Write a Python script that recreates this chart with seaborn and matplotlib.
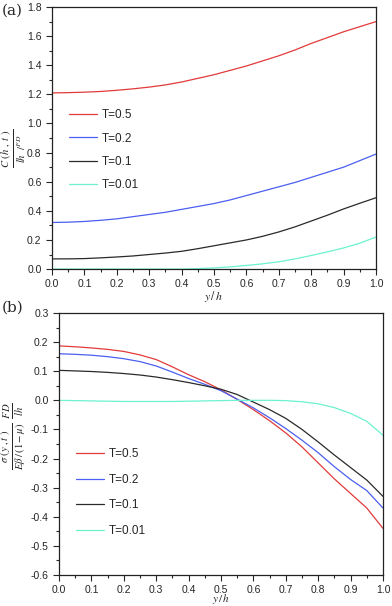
import numpy as np
import pandas as pd
import matplotlib
matplotlib.use("Agg")
import matplotlib.pyplot as plt
import seaborn as sns
from matplotlib.ticker import MultipleLocator

# x = y/h
x = [0.0, 0.05, 0.1, 0.15, 0.2, 0.25, 0.3, 0.35, 0.4, 0.45, 0.5,
     0.55, 0.6, 0.65, 0.7, 0.75, 0.8, 0.85, 0.9, 0.95, 1.0]
labels = ["T=0.5", "T=0.2", "T=0.1", "T=0.01"]

# panel (a): C(h,t)/(lh/FD)
a_05 = [1.21, 1.212, 1.215, 1.22, 1.228, 1.238, 1.25, 1.265, 1.285, 1.31, 1.335,
        1.365, 1.395, 1.43, 1.465, 1.505, 1.55, 1.59, 1.63, 1.665, 1.70]
a_02 = [0.32, 0.322, 0.327, 0.335, 0.345, 0.36, 0.375, 0.39, 0.41, 0.43, 0.45,
        0.475, 0.505, 0.535, 0.565, 0.595, 0.63, 0.665, 0.70, 0.745, 0.79]
a_01 = [0.07, 0.07, 0.072, 0.077, 0.083, 0.09, 0.10, 0.11, 0.122, 0.14, 0.16,
        0.18, 0.20, 0.225, 0.255, 0.29, 0.33, 0.37, 0.413, 0.452, 0.49]
a_001 = [0.0, 0.0, 0.0, 0.0, 0.0, 0.0, 0.0, 0.0, 0.0, 0.003, 0.008,
         0.015, 0.025, 0.036, 0.05, 0.07, 0.093, 0.118, 0.145, 0.178, 0.22]

# panel (b): sigma(y,t) / (E beta/(1-mu)) * FD/lh
b_05 = [0.187, 0.184, 0.18, 0.175, 0.168, 0.156, 0.14, 0.115, 0.088, 0.064, 0.036,
        0.003, -0.032, -0.07, -0.112, -0.16, -0.215, -0.27, -0.32, -0.37, -0.44]
b_02 = [0.16, 0.158, 0.155, 0.15, 0.143, 0.133, 0.118, 0.097, 0.075, 0.055, 0.033,
        0.004, -0.026, -0.06, -0.097, -0.137, -0.18, -0.228, -0.272, -0.31, -0.37]
b_01 = [0.103, 0.101, 0.099, 0.096, 0.092, 0.087, 0.08, 0.071, 0.061, 0.05, 0.038,
        0.02, -0.006, -0.032, -0.062, -0.1, -0.143, -0.188, -0.231, -0.274, -0.33]
b_001 = [0.0, -0.001, -0.002, -0.003, -0.004, -0.004, -0.004, -0.004, -0.003, -0.002, -0.001,
         0.0, 0.0, 0.0, -0.001, -0.005, -0.012, -0.025, -0.045, -0.072, -0.12]

colors = ["#e23a3a", "#4b5ff0", "#2a2a2a", "#6cf2cf"]

sns.set_style("ticks")
plt.rcParams["font.family"] = ["Liberation Sans", "DejaVu Sans"]
plt.rcParams["mathtext.fontset"] = "stix"


def long_df(series):
    rows = []
    for lab, vals in zip(labels, series):
        for xi, v in zip(x, vals):
            rows.append({"x": xi, "v": v, "T": lab})
    return pd.DataFrame(rows)


def style_axis(ax, ylim, ymaj, ymin):
    ax.set_xlim(0, 1.0)
    ax.set_ylim(*ylim)
    ax.xaxis.set_major_locator(MultipleLocator(0.1))
    ax.xaxis.set_minor_locator(MultipleLocator(0.05))
    ax.yaxis.set_major_locator(MultipleLocator(ymaj))
    ax.yaxis.set_minor_locator(MultipleLocator(ymin))
    ax.tick_params(which="major", direction="out", length=4, width=0.8, labelsize=7.5,
                   top=False, right=False)
    ax.tick_params(which="minor", direction="out", length=2.5, width=0.8,
                   top=False, right=False)
    for s in ax.spines.values():
        s.set_linewidth(0.9)
        s.set_color("#222222")
    ax.xaxis.set_major_formatter(matplotlib.ticker.FormatStrFormatter("%.1f"))
    ax.yaxis.set_major_formatter(matplotlib.ticker.FormatStrFormatter("%.1f"))


fig = plt.figure(figsize=(3.92, 6.06), dpi=100)
ax1 = fig.add_axes([0.1327, 0.556, 0.8265, 0.4324])
ax2 = fig.add_axes([0.1505, 0.0512, 0.8265, 0.4323])

df_a = long_df([a_05, a_02, a_01, a_001])
df_b = long_df([b_05, b_02, b_01, b_001])

sns.lineplot(data=df_a, x="x", y="v", hue="T", palette=colors, linewidth=0.9, ax=ax1)
sns.lineplot(data=df_b, x="x", y="v", hue="T", palette=colors, linewidth=0.9, ax=ax2)

style_axis(ax1, (0.0, 1.8), 0.2, 0.1)
style_axis(ax2, (-0.6, 0.3), 0.1, 0.05)

ax1.legend(loc="upper left", bbox_to_anchor=(0.02, 0.65), frameon=False, fontsize=8.5,
           handlelength=2.4, labelspacing=0.95, handletextpad=0.4)
ax2.legend(loc="upper left", bbox_to_anchor=(0.02, 0.525), frameon=False, fontsize=8.5,
           handlelength=2.4, labelspacing=1.15, handletextpad=0.4)

ax1.set_xlabel(r"$y\,/\,h$", fontsize=8.5, labelpad=0)
ax2.set_xlabel(r"$y\,/\,h$", fontsize=8, labelpad=-2.5)
ax1.set_ylabel(r"$\frac{C\ (h\ ,\ t\ )}{lh\ \ /^{FD}}$", fontsize=11)
ax2.set_ylabel(r"$\frac{\sigma\ (y\ ,t\ )}{E\beta\,/\,(1-\mu)}\ \frac{FD}{lh}$", fontsize=11)
ax1.yaxis.set_label_coords(-0.074, 0.46)
ax2.yaxis.set_label_coords(-0.095, 0.53)

fig.text(0.005, 0.975, "(a)", fontsize=11, family="DejaVu Serif")
fig.text(0.005, 0.485, "(b)", fontsize=11, family="DejaVu Serif")

fig.savefig("out.png", dpi=100)
